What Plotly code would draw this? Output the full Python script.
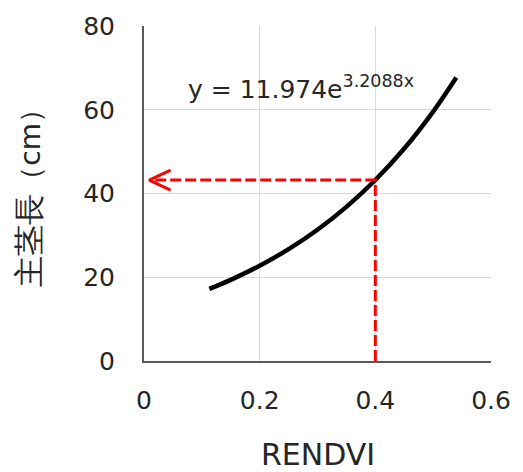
import plotly.graph_objects as go

# Fitted curve: RENDVI vs main stem length (cm)
curve_x = [0.113, 0.15, 0.2, 0.25, 0.3, 0.35, 0.4, 0.45, 0.5, 0.54]
curve_y = [17.21, 19.38, 22.75, 26.71, 31.35, 36.81, 43.22, 50.74, 59.57, 67.7]

# Reference reading (red dashed guide)
ref_x = 0.4
ref_y = 43.2

x_ticks = [0, 0.2, 0.4, 0.6]
x_tick_labels = ["0", "0.2", "0.4", "0.6"]
y_ticks = [0, 20, 40, 60, 80]
y_tick_labels = ["0", "20", "40", "60", "80"]

eq_base = "y = 11.974e"
eq_exp = "3.2088x"
x_title = "RENDVI"
y_title_main = "主茎長"
y_title_unit = "（cm）"

FONT = "DejaVu Sans, Verdana, sans-serif"
TXT = "#262626"
RED = "#ff0000"

fig = go.Figure()

fig.add_trace(go.Scatter(
    x=curve_x, y=curve_y, mode="lines",
    line=dict(color="black", width=4.5, shape="spline"),
    hoverinfo="skip", showlegend=False))

# dashed guide: vertical up from x axis, then horizontal to y axis
fig.add_trace(go.Scatter(
    x=[ref_x, ref_x, 0.01], y=[0, ref_y, ref_y], mode="lines",
    line=dict(color=RED, width=3, dash="11px,4px"),
    hoverinfo="skip", showlegend=False))

# open arrowhead at the y axis end
fig.add_trace(go.Scatter(
    x=[0.046, 0.009, 0.046], y=[ref_y + 2.4, ref_y, ref_y - 2.4], mode="lines",
    line=dict(color=RED, width=3),
    hoverinfo="skip", showlegend=False))

fig.add_annotation(
    x=0.072, y=60.8, xref="x", yref="y",
    text=eq_base + "<sup>" + eq_exp + "</sup>", showarrow=False,
    xanchor="left", yanchor="bottom",
    font=dict(family=FONT, size=25, color=TXT))

fig.add_annotation(
    x=0.5, y=-0.28, xref="paper", yref="paper", text=x_title, showarrow=False,
    xanchor="center", yanchor="middle",
    font=dict(family=FONT, size=30, color=TXT))

fig.add_annotation(
    x=-0.33, y=0.51, xref="paper", yref="paper",
    text='<span style="font-size:31px">' + y_title_main + '</span>' + y_title_unit,
    showarrow=False,
    textangle=-90, xanchor="center", yanchor="middle",
    font=dict(family=FONT, size=28, color=TXT))

fig.update_xaxes(
    range=[0, 0.6], tickvals=x_ticks, ticktext=x_tick_labels,
    showgrid=True, gridcolor="#d9d9d9", gridwidth=1.3,
    zeroline=False, showline=True, linecolor="#595959", linewidth=2,
    ticks="", ticklabelstandoff=16,
    tickfont=dict(family=FONT, size=25, color=TXT), fixedrange=True)

fig.update_yaxes(
    range=[0, 80], tickvals=y_ticks, ticktext=y_tick_labels,
    showgrid=True, gridcolor="#d9d9d9", gridwidth=1.3,
    zeroline=False, showline=True, linecolor="#595959", linewidth=2,
    ticks="", ticklabelstandoff=22,
    tickfont=dict(family=FONT, size=25, color=TXT), fixedrange=True)

fig.update_layout(
    width=523, height=472,
    margin=dict(l=144, r=31, t=22, b=111),
    paper_bgcolor="white", plot_bgcolor="white",
    showlegend=False)

fig.write_html("out.html")
